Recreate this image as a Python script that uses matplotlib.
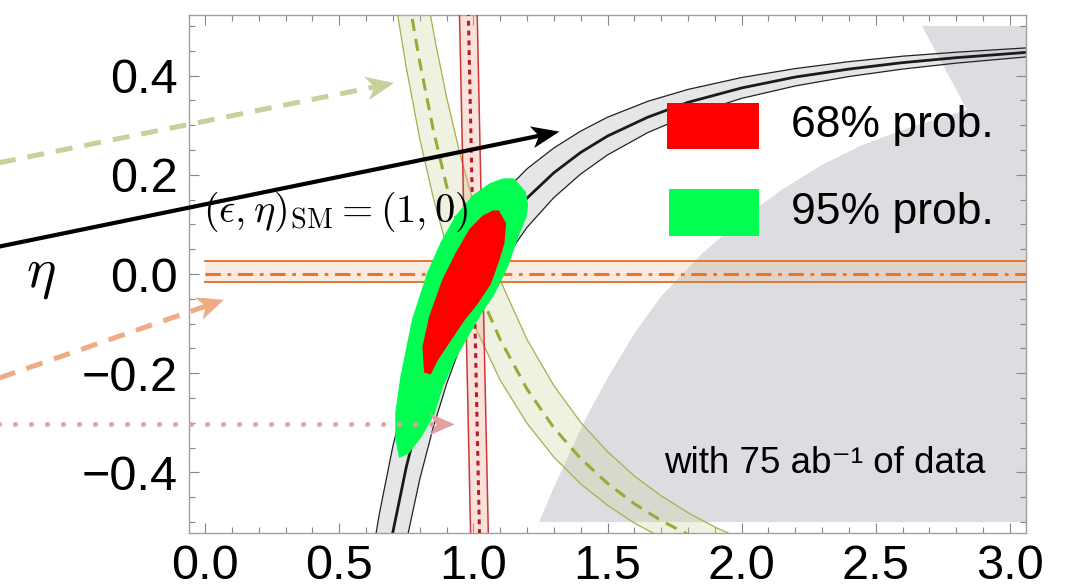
import numpy as np
import matplotlib
matplotlib.use("Agg")
import matplotlib.pyplot as plt
from matplotlib.patches import Polygon, Rectangle
from matplotlib.lines import Line2D
from matplotlib.transforms import IdentityTransform

# ---------------- data ----------------
# grey excluded region (boundary, clockwise)
gray_x = [2.672, 3.07, 3.07, 1.245, 1.30, 1.36, 1.42, 1.50, 1.60, 1.70, 1.85, 2.00, 2.15, 2.30, 2.45, 2.63, 2.84]
gray_y = [0.50, 0.50, -0.50, -0.50, -0.43, -0.36, -0.29, -0.21, -0.12, -0.045, 0.04, 0.11, 0.17, 0.22, 0.26, 0.296, 0.331]

# black band (centre and two edges)
blk_c_x = [0.69, 0.70, 0.75, 0.80, 0.85, 0.90, 0.95, 1.00, 1.10, 1.20, 1.30, 1.40, 1.50, 1.65, 1.80, 2.00, 2.20, 2.40, 2.60, 2.80, 3.07]
blk_c_y = [-0.550, -0.520, -0.389, -0.281, -0.192, -0.117, -0.054, 0.000, 0.087, 0.153, 0.204, 0.245, 0.278, 0.316, 0.346, 0.375, 0.397, 0.413, 0.426, 0.436, 0.447]
blk_u_x = [0.60, 0.625, 0.65, 0.70, 0.75, 0.80, 0.85, 0.90, 0.95, 1.00, 1.10, 1.20, 1.30, 1.40, 1.50, 1.65, 1.80, 2.00, 2.20, 2.40, 2.60, 2.80, 3.07]
blk_u_y = [-0.653, -0.562, -0.482, -0.347, -0.238, -0.148, -0.074, -0.012, 0.040, 0.085, 0.157, 0.212, 0.254, 0.288, 0.316, 0.348, 0.372, 0.396, 0.414, 0.428, 0.439, 0.447, 0.456]
blk_l_x = [0.70, 0.75, 0.80, 0.85, 0.90, 0.95, 1.00, 1.10, 1.20, 1.30, 1.40, 1.50, 1.65, 1.80, 2.00, 2.20, 2.40, 2.60, 2.80, 3.07]
blk_l_y = [-0.694, -0.540, -0.414, -0.310, -0.222, -0.148, -0.085, 0.017, 0.094, 0.154, 0.2015, 0.240, 0.285, 0.3195, 0.354, 0.379, 0.398, 0.413, 0.425, 0.438]

# olive band
olv_c_x = [0.76, 0.78, 0.80, 0.85, 0.90, 0.95, 1.00, 1.05, 1.10, 1.20, 1.30, 1.40, 1.50, 1.60, 1.70, 1.80]
olv_c_y = [0.556, 0.489, 0.4275, 0.292, 0.178, 0.082, 0.0, -0.0707, -0.132, -0.232, -0.310, -0.372, -0.422, -0.463, -0.497, -0.525]
olv_l_x = [0.68, 0.70, 0.72, 0.75, 0.80, 0.85, 0.90, 0.95, 1.00, 1.10, 1.20, 1.30, 1.40, 1.50, 1.60, 1.70]
olv_l_y = [0.670, 0.589, 0.515, 0.416, 0.273, 0.155, 0.056, -0.027, -0.099, -0.214, -0.301, -0.369, -0.423, -0.466, -0.502, -0.531]
olv_r_x = [0.82, 0.84, 0.86, 0.90, 0.95, 1.00, 1.10, 1.20, 1.30, 1.40, 1.50, 1.60, 1.70, 1.80, 1.90, 2.00]
olv_r_y = [0.585, 0.522, 0.463, 0.357, 0.242, 0.144, -0.0125, -0.132, -0.225, -0.299, -0.358, -0.407, -0.447, -0.481, -0.510, -0.534]

# red (nearly vertical) band
red_y = [0.53, -0.53]
red_l_x = [0.948, 0.990]
red_r_x = [1.014, 1.056]
red_c_x = [0.981, 1.023]

# orange horizontal band
org_x = [0.0, 3.07]
org_lo, org_c, org_hi = -0.0155, 0.0, 0.027

# 95% and 68% probability regions
g95_x = [1.149, 1.190, 1.199, 1.193, 1.162, 1.124, 1.075, 1.025, 0.975, 0.926, 0.882, 0.851, 0.801, 0.755, 0.727,
         0.714, 0.714, 0.733, 0.776, 0.832, 0.882, 0.938, 1.000, 1.062, 1.112]
g95_y = [0.190, 0.165, 0.140, 0.115, 0.075, 0.015, -0.039, -0.079, -0.126, -0.173, -0.227, -0.281, -0.328, -0.360, -0.367,
         -0.330, -0.280, -0.207, -0.093, 0.001, 0.062, 0.116, 0.156, 0.180, 0.190]
r68_x = [1.093, 1.118, 1.112, 1.093, 1.062, 1.013, 0.963, 0.913, 0.864, 0.839, 0.820, 0.814, 0.839, 0.888, 0.938, 0.988, 1.037, 1.075]
r68_y = [0.126, 0.102, 0.062, 0.028, -0.019, -0.059, -0.093, -0.133, -0.173, -0.200, -0.197, -0.147, -0.086, -0.012, 0.042, 0.089, 0.116, 0.126]

# arrows (start, tip) in data units
arrow_olive = ((-0.77, 0.224), (0.704, 0.385))
arrow_black = ((-0.77, 0.055), (1.321, 0.287))
arrow_orange = ((-0.77, -0.210), (0.070, -0.052))
arrow_pink = ((-0.77, -0.303), (0.930, -0.303))

xticks = [0.0, 0.5, 1.0, 1.5, 2.0, 2.5, 3.0]
xtick_labels = ["0.0", "0.5", "1.0", "1.5", "2.0", "2.5", "3.0"]
yticks = [-0.4, -0.2, 0.0, 0.2, 0.4]
ytick_labels = ["\u22120.4", "\u22120.2", "0.0", "0.2", "0.4"]
legend_labels = ["68% prob.", "95% prob."]

# ---------------- figure ----------------
W, H = 1072, 588
fig = plt.figure(figsize=(W / 100, H / 100), dpi=100)
ax = fig.add_axes([189 / W, 1 - 533 / H, (1026 - 189) / W, (533 - 15) / H])
ax.set_xlim(-0.06, 3.06)
ax.set_ylim(-0.522, 0.522)

FONT = ["Liberation Sans", "DejaVu Sans"]

# grey region
ax.add_patch(Polygon(np.column_stack([gray_x, gray_y]), closed=True, fc="#dcdde0", ec="none", zorder=1))

# black band
bx = list(blk_u_x) + list(blk_l_x[::-1])
by = list(blk_u_y) + list(blk_l_y[::-1])
ax.add_patch(Polygon(np.column_stack([bx, by]), closed=True, fc="#c8c8cc", alpha=0.45, ec="none", zorder=2))
ax.plot(blk_u_x, blk_u_y, color="#222222", lw=0.9, zorder=2.1)
ax.plot(blk_l_x, blk_l_y, color="#222222", lw=0.9, zorder=2.1)
ax.plot(blk_c_x, blk_c_y, color="#1a1a1a", lw=2.0, zorder=2.2)

# olive band
ox = list(olv_l_x) + list(olv_r_x[::-1])
oy = list(olv_l_y) + list(olv_r_y[::-1])
ax.add_patch(Polygon(np.column_stack([ox, oy]), closed=True, fc="#c8d296", alpha=0.28, ec="none", zorder=3))
ax.plot(olv_l_x, olv_l_y, color="#a8ae4c", lw=0.9, zorder=3.1)
ax.plot(olv_r_x, olv_r_y, color="#a8ae4c", lw=0.9, zorder=3.1)
ax.plot(olv_c_x, olv_c_y, color="#9ea83a", lw=2.2, ls=(0, (4.0, 2.6)), zorder=3.2)

# red band
rx = list(red_l_x) + list(red_r_x[::-1])
ry = list(red_y) + list(red_y[::-1])
ax.add_patch(Polygon(np.column_stack([rx, ry]), closed=True, fc="#f0a890", alpha=0.33, ec="none", zorder=4))
ax.plot(red_l_x, red_y, color="#c83a3a", lw=1.1, zorder=4.1)
ax.plot(red_r_x, red_y, color="#c83a3a", lw=1.1, zorder=4.1)
ax.plot(red_c_x, red_y, color="#b41e28", lw=2.2, ls=(0, (1.6, 1.6)), zorder=4.2)

# orange band
ax.fill_between(org_x, [org_lo] * 2, [org_hi] * 2, color="#f2bc98", alpha=0.3, lw=0, zorder=5)
ax.plot(org_x, [org_lo] * 2, color="#e07832", lw=1.4, zorder=5.1)
ax.plot(org_x, [org_hi] * 2, color="#e07832", lw=1.4, zorder=5.1)
ax.plot(org_x, [org_c] * 2, color="#e07832", lw=2.2, ls=(0, (5, 2.2, 1.2, 2.2)), zorder=5.2)

# probability regions
ax.add_patch(Polygon(np.column_stack([g95_x, g95_y]), closed=True, fc="#00ff50", ec="#00ff50", lw=2.0, zorder=6))
ax.add_patch(Polygon(np.column_stack([r68_x, r68_y]), closed=True, fc="#ff0000", ec="#ff0000", lw=1.5, zorder=6.1))

# legend
ax.add_patch(Rectangle((1.723, 0.252), 0.341, 0.093, fc="#ff0000", ec="none", zorder=9))
ax.add_patch(Rectangle((1.729, 0.077), 0.335, 0.094, fc="#00ff50", ec="none", zorder=9))
ax.text(2.184, 0.2985, legend_labels[0], fontsize=32, family=FONT, va="center", ha="left", zorder=9)
ax.text(2.184, 0.123, legend_labels[1], fontsize=32, family=FONT, va="center", ha="left", zorder=9)

# annotations
ax.text(1.711, -0.401, "with 75 ab\u207b\u00b9 of data", fontsize=26.5, family=FONT, va="baseline", ha="left", zorder=9)
ax.text(-0.009, 0.105, r"$(\epsilon,\eta)_{\rm SM}=(1,0)$", fontsize=29, math_fontfamily="cm",
        va="baseline", ha="left", zorder=7)
fig.text(41 / W, 1 - 274 / H, r"$\eta$", fontsize=40, math_fontfamily="cm", ha="center", va="center")

# ticks / frame
ax.set_xticks(xticks)
ax.set_xticklabels(xtick_labels)
ax.set_yticks(yticks)
ax.set_yticklabels(ytick_labels)
ax.set_xticks(np.round(np.arange(0.0, 3.05, 0.1), 2), minor=True)
ax.set_yticks(np.round(np.arange(-0.5, 0.51, 0.05), 3), minor=True)
ax.tick_params(which="both", direction="in", top=True, right=True, color="#888888", width=0.8)
ax.tick_params(which="major", length=7.5)
ax.tick_params(which="minor", length=4)
ax.tick_params(axis="y", which="major", pad=8, labelsize=35)
ax.tick_params(axis="x", which="major", pad=8, labelsize=35)
for lab in ax.get_xticklabels() + ax.get_yticklabels():
    lab.set_family(FONT)
for s in ax.spines.values():
    s.set_color("#a0a0a0")
    s.set_linewidth(1.0)


def add_arrow(start, tip, color, lw, ls, L, Wd, notch, capstyle="butt"):
    p0 = np.array(ax.transData.transform(start))
    p1 = np.array(ax.transData.transform(tip))
    d = (p1 - p0) / np.hypot(*(p1 - p0))
    n = np.array([-d[1], d[0]])
    base = p1 - d * L
    nb = p1 - d * (L - notch)
    line = Line2D([p0[0], nb[0] + d[0]], [p0[1], nb[1] + d[1]], color=color, lw=lw, linestyle=ls,
                  transform=IdentityTransform(), zorder=10)
    line.set_dash_capstyle(capstyle)
    line.set_solid_capstyle("butt")
    fig.add_artist(line)
    head = Polygon([p1, base + n * Wd, nb, base - n * Wd], closed=True, fc=color, ec="none",
                   transform=IdentityTransform(), zorder=11)
    fig.add_artist(head)


add_arrow(*arrow_olive, color="#c8d09e", lw=3.6, ls=(0, (3.4, 2.4)), L=28, Wd=12, notch=8)
add_arrow(*arrow_black, color="#000000", lw=3.0, ls="-", L=28, Wd=11, notch=7)
add_arrow(*arrow_orange, color="#eeac84", lw=3.6, ls=(0, (3.4, 2.4)), L=27, Wd=12, notch=8)
add_arrow(*arrow_pink, color="#e3a0a0", lw=3.6, ls=(0, (0.001, 3.2)), L=25, Wd=11, notch=7, capstyle="round")

fig.savefig("out.png", dpi=100)
